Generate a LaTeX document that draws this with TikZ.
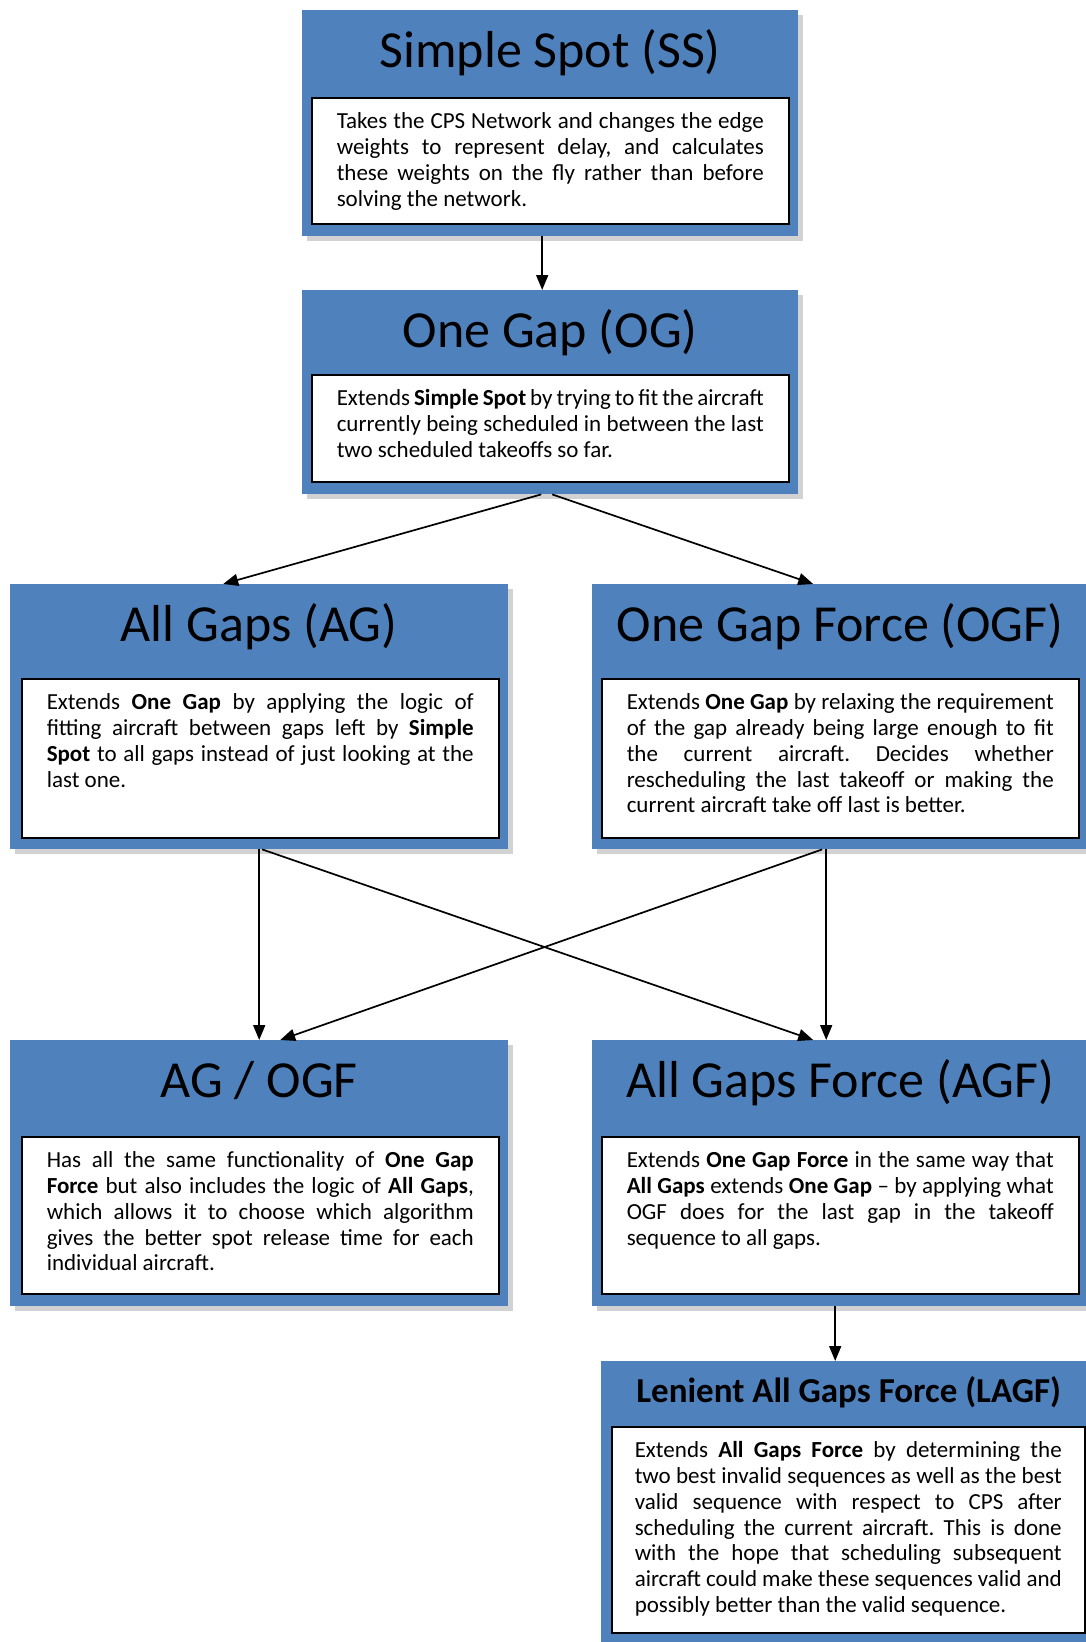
\documentclass[tikz,border=0pt]{standalone}
\usepackage{fontspec}
\setmainfont{Carlito}
\usepackage{xcolor}
\usepackage{tikz}
\usetikzlibrary{positioning,calc,shadows,arrows.meta}
\definecolor{boxblue}{HTML}{4F81BD}
\hyphenpenalty=10000
\hbadness=10000
\frenchspacing
\pgfkeys{tikz/algbox/.style={rectangle,fill=boxblue,inner sep=0pt,anchor=north west,drop shadow={shadow xshift=5pt,shadow yshift=-5pt,fill=black!35}}}
\pgfkeys{tikz/algtitle/.style={anchor=base,inner sep=0pt,font=\fontsize{52}{60}\selectfont}}
\pgfkeys{tikz/algtext/.style={draw=black,line width=1.5pt,fill=white,anchor=north west,inner xsep=25pt,inner ysep=0pt,text width=427pt,text height=31pt,text depth=#1,align=justify,font=\fontsize{23}{25.8}\selectfont,execute at begin node={\spaceskip=5.2pt plus 12pt minus 2.6pt}}}
\pgfkeys{tikz/flow/.style={-{Triangle[length=15pt,width=12pt]},line width=1.7pt}}

\begin{document}
\begin{tikzpicture}[x=1pt,y=-1pt]
  \clip (0,0) rectangle (1086,1642);

  \node[algbox,minimum width=496pt,minimum height=226pt] (ss) at (302,10) {};
  \node[algtitle] (ssT) at ([yshift=-57pt]ss.north) {Simple Spot (SS)};
  \node[algtext=95pt] (ssB) at (311,97) {Takes the CPS Network and changes the edge\linebreak weights to represent delay, and calculates\linebreak these weights on the fly rather than before\linebreak solving the network.};

  \node[algbox,minimum width=496pt,minimum height=204pt] (og) at (302,290) {};
  \node[algtitle] (ogT) at ([yshift=-57pt]og.north) {One Gap (OG)};
  \node[algtext=76pt] (ogB) at (311,374) {Extends \textbf{Simple Spot} by trying to fit the aircraft\linebreak currently being scheduled in between the last\linebreak two scheduled takeoffs so far.};

  \node[algbox,minimum width=498pt,minimum height=265pt] (ag) at (10,584) {};
  \node[algtitle] (agT) at ([yshift=-57pt]ag.north) {All Gaps (AG)};
  \node[algtext=128pt] (agB) at (21,678) {Extends \textbf{One Gap} by applying the logic of\linebreak fitting aircraft between gaps left by \textbf{Simple}\linebreak \textbf{Spot} to all gaps instead of just looking at the\linebreak last one.};

  \node[algbox,minimum width=496pt,minimum height=265pt] (ogf) at (592,584) {};
  \node[algtitle] (ogfT) at ([yshift=-57pt]ogf.north) {One Gap Force (OGF)};
  \node[algtext=128pt] (ogfB) at (601,678) {Extends \textbf{One Gap} by relaxing the requirement\linebreak of the gap already being large enough to fit\linebreak the current aircraft. Decides whether\linebreak rescheduling the last takeoff or making the\linebreak current aircraft take off last is better.};

  \node[algbox,minimum width=498pt,minimum height=266pt] (agog) at (10,1040) {};
  \node[algtitle] (agogT) at ([yshift=-57pt]agog.north) {AG / OGF};
  \node[algtext=126pt] (agogB) at (21,1136) {Has all the same functionality of \textbf{One Gap}\linebreak \textbf{Force} but also includes the logic of \textbf{All Gaps},\linebreak which allows it to choose which algorithm\linebreak gives the better spot release time for each\linebreak individual aircraft.};

  \node[algbox,minimum width=496pt,minimum height=266pt] (agf) at (592,1040) {};
  \node[algtitle] (agfT) at ([yshift=-57pt]agf.north) {All Gaps Force (AGF)};
  \node[algtext=126pt] (agfB) at (601,1136) {Extends \textbf{One Gap Force} in the same way that\linebreak \textbf{All Gaps} extends \textbf{One Gap} -- by applying what\linebreak OGF does for the last gap in the takeoff\linebreak sequence to all gaps.};

  \node[algbox,minimum width=495pt,minimum height=290pt] (lagf) at (601,1361) {};
  \node[algtitle,font=\bfseries\fontsize{35}{40}\selectfont] (lagfT) at ([yshift=-41pt]lagf.north) {Lenient All Gaps Force (LAGF)};
  \node[algtext=175pt,inner xsep=23pt] (lagfB) at (611,1426) {Extends \textbf{All Gaps Force} by determining the\linebreak two best invalid sequences as well as the best\linebreak valid sequence with respect to CPS after\linebreak scheduling the current aircraft. This is done\linebreak with the hope that scheduling subsequent\linebreak aircraft could make these sequences valid and\linebreak possibly better than the valid sequence.};

  \draw[flow] ([xshift=-8pt]ss.south) -- ([xshift=-8pt]og.north);
  \draw[flow] ([xshift=-9pt]og.south) -- ([xshift=-36pt]ag.north);
  \draw[flow] ([xshift=2pt]og.south) -- ([xshift=-27pt]ogf.north);
  \draw[flow] (ag.south) -- (agog.north);
  \draw[flow] ([xshift=3pt]ag.south) -- ([xshift=-27pt]agf.north);
  \draw[flow] ([xshift=-18pt]ogf.south) -- ([xshift=21pt]agog.north);
  \draw[flow] ([xshift=-14pt]ogf.south) -- ([xshift=-14pt]agf.north);
  \draw[flow] ([xshift=-5pt]agf.south) -- ([xshift=-5pt]agf.south |- lagf.north);
\end{tikzpicture}
\end{document}
